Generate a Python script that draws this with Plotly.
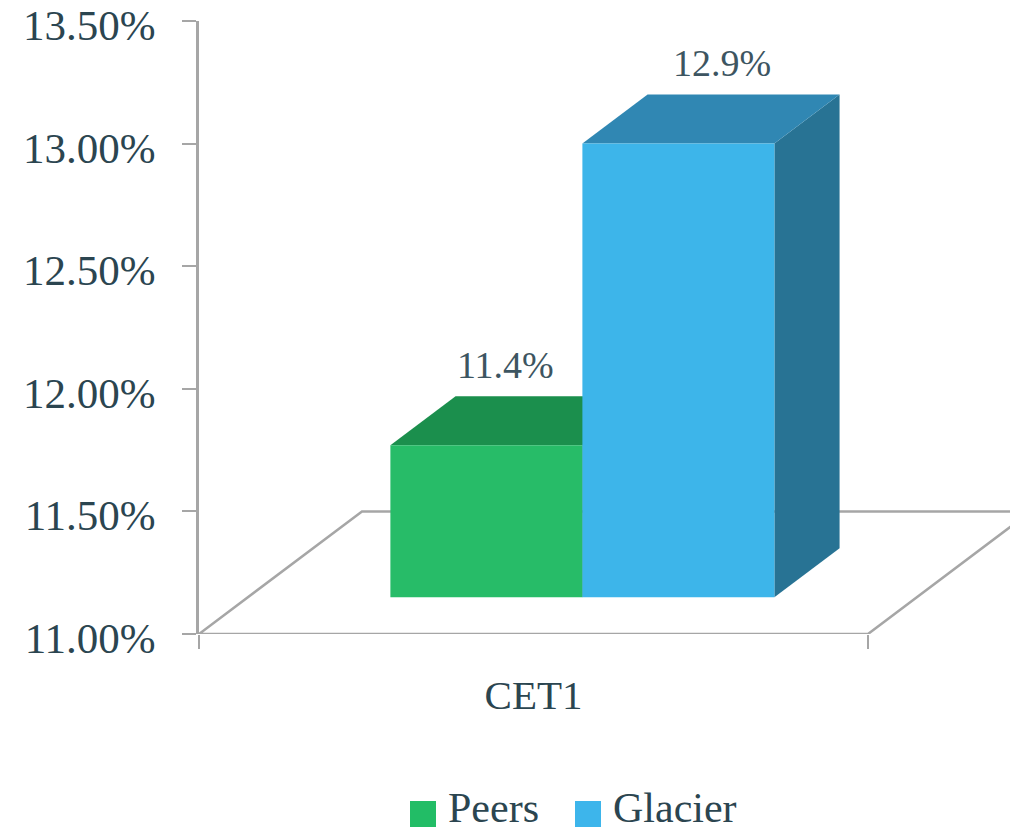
import plotly.graph_objects as go

categories = ["CET1"]
series_names = ["Peers", "Glacier"]
value_labels = ["11.4%", "12.9%"]
# Bar heights as drawn against the axis (front-plane value of the top edge)
drawn_values = [11.62, 12.85]
y_ticks = [11.0, 11.5, 12.0, 12.5, 13.0, 13.5]
y_tick_labels = ["11.00%", "11.50%", "12.00%", "12.50%", "13.00%", "13.50%"]

front_colors = ["#27BC68", "#3DB5EA"]
top_colors = ["#1B8F4D", "#3087B3"]
side_colors = ["#1A7A42", "#287394"]
legend_colors = ["#22BD66", "#3DB5EB"]
TEXT = "#2B4550"
LABEL = "#3D5561"
AXIS = "#A6A6A6"
FONT = "Liberation Serif"

BASE = 11.0
DEPTH_X = 0.2436   # floor depth in x-axis units
DEPTH_Y = 0.5      # floor depth in y-axis units
Z0, Z1 = 0.3, 0.7  # bar depth within the floor
BAR_W = 0.287


def project(x, y, z):
    return x + z * DEPTH_X, y + z * DEPTH_Y


def poly(points, color):
    pts = [project(*p) for p in points] + [project(*points[0])]
    return go.Scatter(x=[p[0] for p in pts], y=[p[1] for p in pts], mode="lines",
                      fill="toself", fillcolor=color, line=dict(width=0, color=color),
                      hoverinfo="skip", showlegend=False)


fig = go.Figure()

floor = [(-0.5, BASE, 0), (-0.5, BASE, 1), (0.5, BASE, 1), (0.5, BASE, 0), (-0.5, BASE, 0)]
fp = [project(*p) for p in floor]
fig.add_trace(go.Scatter(x=[p[0] for p in fp], y=[p[1] for p in fp], mode="lines",
                         line=dict(color=AXIS, width=2.5), hoverinfo="skip",
                         showlegend=False, cliponaxis=False))

annotations = []
label_shift = [-13, 11]
for i, name in enumerate(series_names):
    x0 = -BAR_W + i * BAR_W
    x1 = x0 + BAR_W
    top = drawn_values[i]
    fig.add_trace(poly([(x1, BASE, Z0), (x1, BASE, Z1), (x1, top, Z1), (x1, top, Z0)], side_colors[i]))
    fig.add_trace(poly([(x0, top, Z0), (x0, top, Z1), (x1, top, Z1), (x1, top, Z0)], top_colors[i]))
    fig.add_trace(poly([(x0, BASE, Z0), (x1, BASE, Z0), (x1, top, Z0), (x0, top, Z0)], front_colors[i]))
    lx, ly = project((x0 + x1) / 2, top, (Z0 + Z1) / 2)
    annotations.append(dict(x=lx, y=ly, xref="x", yref="y", text=value_labels[i], showarrow=False,
                            xshift=label_shift[i], yshift=56,
                            font=dict(family=FONT, size=38, color=LABEL)))

# The page body adds 8px around the figure; the right margin keeps the plot area 819px wide.
W, H = 1018, 823
legend_items = [(series_names[0], 410, 446), (series_names[1], 575, 611)]
shapes = []
for i, (name, sq, tx) in enumerate(legend_items):
    shapes.append(dict(type="rect", xref="paper", yref="paper", layer="above",
                       x0=(sq - 199) / 819, x1=(sq + 26 - 199) / 819,
                       y0=(634 - 827) / 613, y1=(634 - 801) / 613,
                       fillcolor=legend_colors[i], line=dict(width=0)))
    annotations.append(dict(x=(tx - 199) / 819, y=(634 - 808) / 613, xref="paper", yref="paper",
                            xanchor="left", yanchor="middle", text=name, showarrow=False,
                            font=dict(family=FONT, size=42, color=TEXT)))

fig.update_layout(
    template="none",
    width=W, height=H, autosize=False, showlegend=False,
    margin=dict(l=191, r=8, t=13, b=197, pad=0),
    paper_bgcolor="white", plot_bgcolor="white",
    shapes=shapes, annotations=annotations,
    xaxis=dict(range=[-0.5, -0.5 + 819 / 669], automargin=False, showgrid=False, zeroline=False,
               showline=False, tickmode="array", tickvals=[0], ticktext=categories,
               ticks="outside", ticklen=0,
               ticklabelstandoff=25, tickfont=dict(family=FONT, size=41, color=TEXT),
               minor=dict(tickmode="array", tickvals=[-0.5, 0.5], ticks="outside", ticklen=14,
                          tickcolor=AXIS, tickwidth=1.5)),
    yaxis=dict(range=[11, 13.5], automargin=False, showgrid=False, zeroline=False, showline=True,
               linecolor=AXIS, linewidth=2.5, tickmode="array", tickvals=y_ticks,
               ticktext=y_tick_labels, ticks="outside", ticklen=14, tickcolor=AXIS, tickwidth=1.5,
               ticklabelstandoff=18, ticklabelshift=4, ticklabeloverflow="allow",
               tickfont=dict(family=FONT, size=43, color=TEXT)),
)

fig.write_html("out.html")
